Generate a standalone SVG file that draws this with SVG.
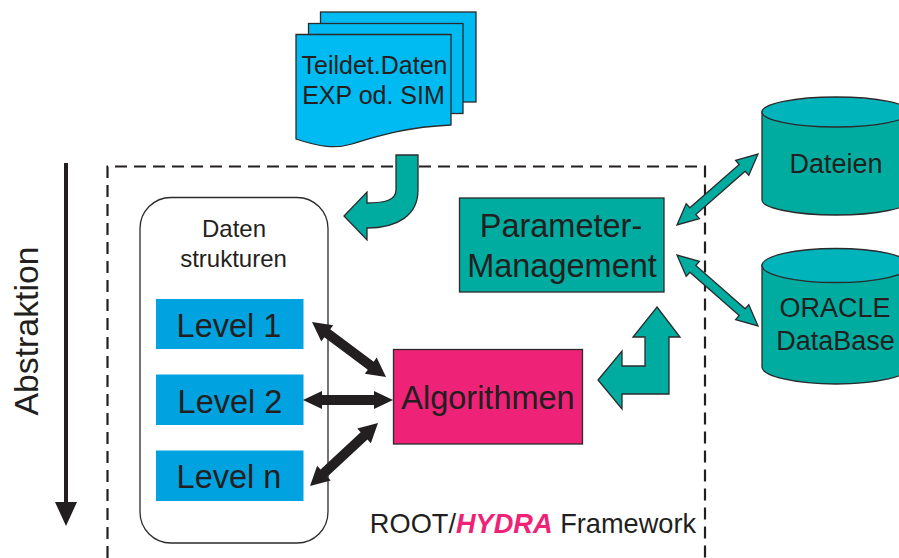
<svg xmlns="http://www.w3.org/2000/svg" width="899" height="558" viewBox="0 0 899 558">
<style>
text{font-family:"Liberation Sans",Arial,sans-serif;fill:#231f20;text-anchor:middle}
.doc{fill:#00baf2;stroke:#2b2a2c;stroke-width:1.3}
.teal{fill:#00ac9f;stroke:#2b2a2c;stroke-width:1.3}
.cyl{fill:#00b4bb;stroke:#2b2a2c;stroke-width:1.3}
.lvl{fill:#00a3e0}
.ln{font-size:32.500px}
.blk{fill:#231f20;stroke:none}
</style>
<rect width="899" height="558" fill="#fff"/>
<g id="abstraktion">
<path class="blk" d="M64 163H68V502H77L66 526L55 502H64Z"/>
<text transform="translate(38 331) rotate(-90)" font-size="33.800">Abstraktion</text>
</g>
<g id="framework">
<path d="M107.500 558V166.500H705V558" fill="none" stroke="#231f20" stroke-width="2.200" stroke-dasharray="12 7"/>
<text x="533" y="533" font-size="27.200">ROOT/<tspan font-weight="bold" font-style="italic" fill="#ee2277">HYDRA</tspan> Framework</text>
</g>
<g id="teildaten">
<rect class="doc" x="320.500" y="12" width="155.500" height="90"/>
<rect class="doc" x="308.500" y="23.500" width="154.500" height="90"/>
<path class="doc" d="M296 34.500H451V125C405 127 375 137 352 144C335 149 320 147 296 139Z"/>
<text x="374.500" y="74" font-size="25">Teildet.Daten</text>
<text x="373.500" y="104" font-size="25">EXP od. SIM</text>
</g>
<g id="datenstrukturen">
<rect x="140" y="197.500" width="188" height="345.500" rx="31" ry="31" fill="#fff" stroke="#2b2a2c" stroke-width="1.300"/>
<text x="234" y="237" font-size="24">Daten</text>
<text x="233.500" y="267" font-size="24">strukturen</text>
</g>
<g id="level1"><rect class="lvl" x="156" y="299" width="147.500" height="50"/><text class="ln" x="229" y="337">Level 1</text></g>
<g id="level2"><rect class="lvl" x="156" y="374.500" width="147.500" height="50.500"/><text class="ln" x="230" y="412.500">Level 2</text></g>
<g id="leveln"><rect class="lvl" x="156" y="450.500" width="147.500" height="50.500"/><text class="ln" x="229" y="488">Level n</text></g>
<g id="parameter">
<rect class="teal" x="459.500" y="198" width="204.500" height="94"/>
<text x="561" y="237" font-size="32.500">Parameter-</text>
<text x="562" y="277" font-size="32.500">Management</text>
</g>
<g id="algorithmen">
<rect x="393.500" y="349.500" width="189" height="94.500" fill="#ee2277" stroke="#2b2a2c" stroke-width="1.300"/>
<text x="488" y="409" font-size="32.500">Algorithmen</text>
</g>
<g id="dateien">
<path class="teal" d="M762 112V200C762 208 795 215 836 215S910 208 910 200V112Z"/>
<ellipse class="cyl" cx="836" cy="112" rx="74" ry="15"/>
<text x="836" y="173" font-size="27">Dateien</text>
</g>
<g id="oracle">
<path class="teal" d="M762 265V367C762 376 795 384 836 384S910 376 910 367V265Z"/>
<ellipse class="cyl" cx="836" cy="265.500" rx="74" ry="17"/>
<text x="835" y="317" font-size="27">ORACLE</text>
<text x="835.500" y="350" font-size="27">DataBase</text>
</g>
<g id="connectors">
<path class="teal" d="M396 155H418V190C418 215 398 228 367 228V240L344 216L367 192V203C385 203 396 200 396 190Z"/>
<path class="teal" d="M657 307L680 337H669V394H622V409L598 380L622 351V366H645V337H633Z"/>
<path class="teal" d="M758 154L748.790 175.360L745.170 171.220L695.770 214.540L699.390 218.680L677 225L686.210 203.640L689.830 207.780L739.230 164.460L735.610 160.320Z"/>
<path class="teal" d="M677 255L686.210 276.360L689.830 272.220L739.230 315.540L735.610 319.680L758 326L748.790 304.640L745.170 308.780L695.770 265.460L699.390 261.320Z"/>
<path class="blk" d="M312 322L321.300 341.400L324.300 337.300L367.800 369.700L364.800 373.700L386 377L376.700 357.600L373.700 361.700L330.200 329.300L333.200 325.300Z"/>
<path class="blk" d="M303 400L322 391V395H374V391L393 400L374 409V405H322V409Z"/>
<path class="blk" d="M378 423L370.860 443.250L367.460 439.580L327.340 476.760L330.740 480.430L310 486L317.140 465.750L320.540 469.420L360.660 432.240L357.260 428.570Z"/>
</g>
</svg>
